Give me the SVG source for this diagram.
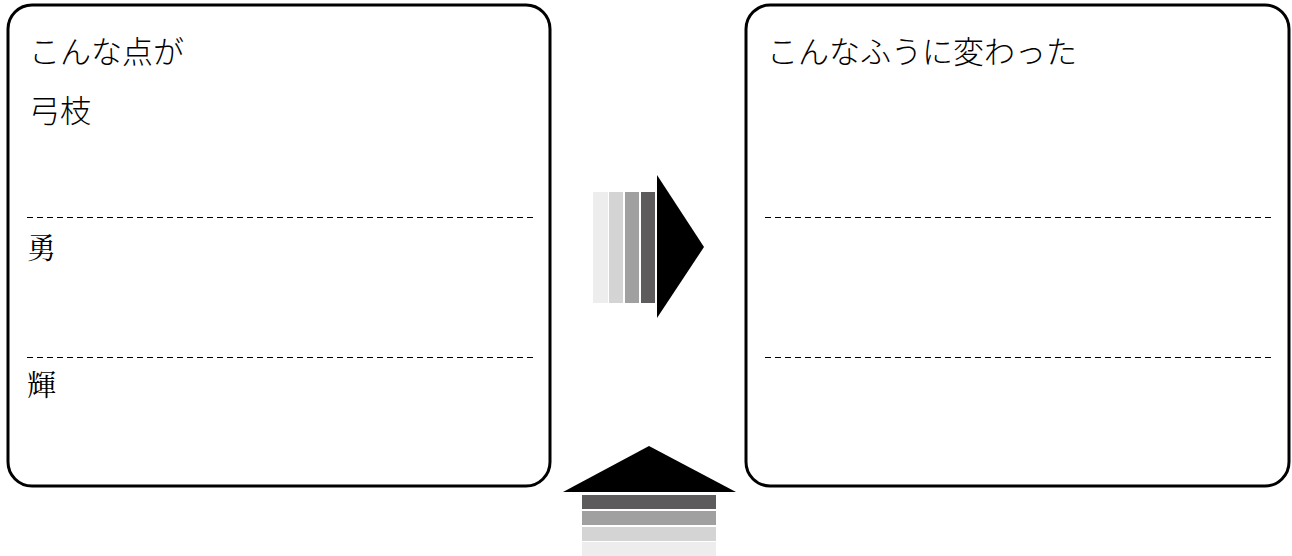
<svg xmlns="http://www.w3.org/2000/svg" width="1292" height="556" viewBox="0 0 1292 556">
  <style>
    .box { fill: #ffffff; stroke: #000000; stroke-width: 3; }
    .dash { stroke: #000000; stroke-width: 1.2; stroke-dasharray: 6 4; fill: none; }
    .t { font-family: "Noto Sans CJK JP", sans-serif; font-weight: 300; fill: #000000; }
    .m { font-family: "Noto Serif CJK JP", "Noto Sans CJK JP", serif; font-weight: 400; fill: #000000; }
    .c1 { fill: #5d5b5b; }
    .c2 { fill: #a0a0a0; }
    .c3 { fill: #d4d4d4; }
    .c4 { fill: #ecedec; }
  </style>

  <!-- before panel -->
  <g id="before">
    <rect class="box" x="8" y="5" width="542" height="481" rx="24" ry="24"/>
    <text class="t" x="29" y="63" font-size="31">こんな点が</text>
    <text class="t" x="29" y="122" font-size="31">弓枝</text>
    <line class="dash" x1="27" y1="217.5" x2="534" y2="217.5"/>
    <text class="m" x="27" y="259" font-size="29">勇</text>
    <line class="dash" x1="27" y1="357.5" x2="534" y2="357.5"/>
    <text class="m" x="27" y="396" font-size="29">輝</text>
  </g>

  <!-- after panel -->
  <g id="after">
    <rect class="box" x="746" y="5" width="543" height="481" rx="24" ry="24"/>
    <text class="t" x="767" y="63" font-size="31">こんなふうに変わった</text>
    <line class="dash" x1="765" y1="217.5" x2="1273" y2="217.5"/>
    <line class="dash" x1="765" y1="357.5" x2="1273" y2="357.5"/>
  </g>

  <g id="connectors">
    <!-- right-pointing arrow -->
    <g id="arrow-right">
      <rect class="c4" x="593" y="192" width="15" height="111"/>
      <rect class="c3" x="609" y="192" width="14" height="111"/>
      <rect class="c2" x="625" y="192" width="14" height="111"/>
      <rect class="c1" x="641" y="192" width="14" height="111"/>
      <polygon points="657,175 704,247 657,318" fill="#000000"/>
    </g>
    <!-- upward arrow -->
    <g id="arrow-up">
      <polygon points="563,492 649,446 736,492" fill="#000000"/>
      <rect class="c1" x="582" y="495" width="134" height="14"/>
      <rect class="c2" x="582" y="511" width="134" height="14"/>
      <rect class="c3" x="582" y="527" width="134" height="14"/>
      <rect class="c4" x="582" y="542" width="134" height="14"/>
    </g>
  </g>
</svg>
